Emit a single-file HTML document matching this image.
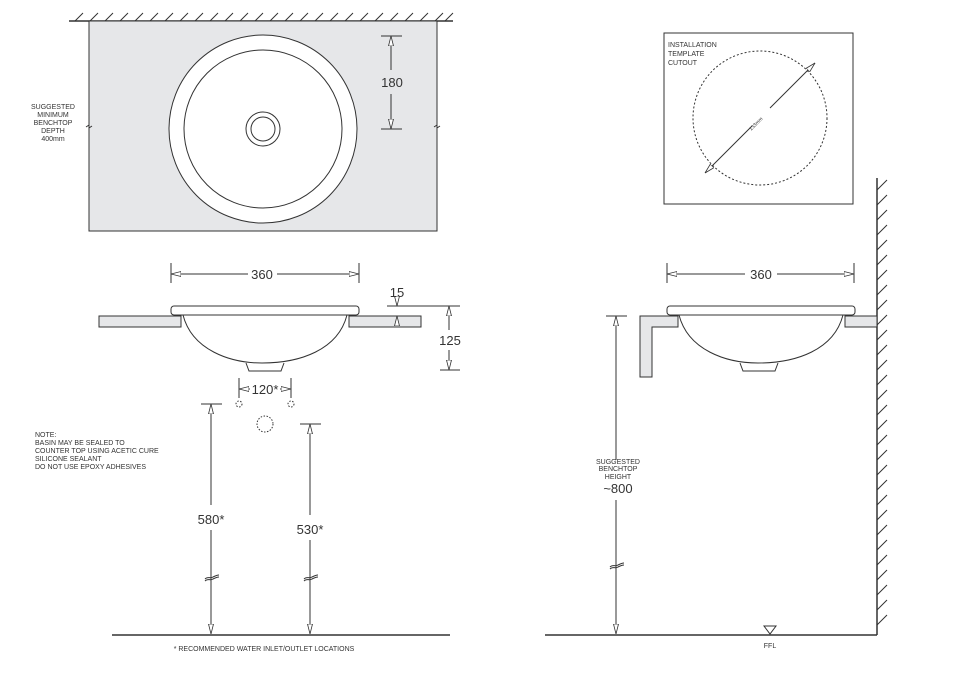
<!DOCTYPE html>
<html><head><meta charset="utf-8"><style>
html,body{margin:0;padding:0;background:#fff;}
svg{display:block;}
text{font-family:"Liberation Sans",Arial,sans-serif;fill:#333;}
.s{font-size:7px;}
.d{font-size:13px;text-anchor:middle;}
</style></head><body>
<svg width="954" height="700" viewBox="0 0 954 700" xmlns="http://www.w3.org/2000/svg">
<defs>
<marker id="a" viewBox="0 0 10 6" refX="10" refY="3" markerWidth="10" markerHeight="6" orient="auto-start-reverse" markerUnits="userSpaceOnUse">
<path d="M0,0.5 L10,3 L0,5.5 Z" fill="#fff" stroke="#333" stroke-width="0.8"/>
</marker>
</defs>
<g stroke="#333" fill="none" stroke-width="1">
<!-- top plan -->
<line x1="69" y1="21" x2="453" y2="21" stroke-width="1.5"/>
<path d="M75,21 l8,-8 M90,21 l8,-8 M105,21 l8,-8 M120,21 l8,-8 M135,21 l8,-8 M150,21 l8,-8 M165,21 l8,-8 M180,21 l8,-8 M195,21 l8,-8 M210,21 l8,-8 M225,21 l8,-8 M240,21 l8,-8 M255,21 l8,-8 M270,21 l8,-8 M285,21 l8,-8 M300,21 l8,-8 M315,21 l8,-8 M330,21 l8,-8 M345,21 l8,-8 M360,21 l8,-8 M375,21 l8,-8 M390,21 l8,-8 M405,21 l8,-8 M420,21 l8,-8 M435,21 l8,-8 M445,21 l8,-8"/>
<rect x="89" y="21" width="348" height="210" fill="#e6e7e9"/>
<circle cx="263" cy="129" r="94" fill="#fff"/>
<circle cx="263" cy="129" r="79" fill="#fff"/>
<circle cx="263" cy="129" r="17"/>
<circle cx="263" cy="129" r="12"/>
<line x1="381" y1="36" x2="402" y2="36"/><line x1="381" y1="129" x2="402" y2="129"/>
<line x1="391" y1="36" x2="391" y2="70" marker-start="url(#a)"/>
<line x1="391" y1="94" x2="391" y2="129" marker-end="url(#a)"/>
<path d="M86,127 l3,-2 l0,3 l3,-2 M434,127 l3,-2 l0,3 l3,-2"/>

<!-- left section -->
<line x1="171" y1="263" x2="171" y2="283"/><line x1="359" y1="263" x2="359" y2="283"/>
<line x1="171" y1="274" x2="248" y2="274" marker-start="url(#a)"/>
<line x1="277" y1="274" x2="359" y2="274" marker-end="url(#a)"/>
<rect x="99" y="316" width="82" height="11" fill="#e6e7e9"/>
<rect x="349" y="316" width="72" height="11" fill="#e6e7e9"/>
<path d="M183,315 C192,350 230,363 262,363 C300,363 338,350 347,315" fill="#fff"/>
<path d="M246,363 L249,371 L281,371 L284,363"/>
<rect x="171" y="306" width="188" height="9" rx="3" fill="#fff"/>
<line x1="387" y1="306" x2="460" y2="306"/>
<line x1="440" y1="370" x2="460" y2="370"/>
<line x1="397" y1="300" x2="397" y2="306" marker-end="url(#a)"/>
<line x1="397" y1="325" x2="397" y2="316" marker-end="url(#a)"/>
<line x1="449" y1="306" x2="449" y2="330" marker-start="url(#a)"/>
<line x1="449" y1="350" x2="449" y2="370" marker-end="url(#a)"/>
<line x1="239" y1="378" x2="239" y2="398"/><line x1="291" y1="378" x2="291" y2="398"/>
<line x1="250" y1="389" x2="239" y2="389" marker-end="url(#a)"/>
<line x1="280" y1="389" x2="291" y2="389" marker-end="url(#a)"/>
<g stroke-dasharray="1.5,1.5"><circle cx="239" cy="404" r="3"/><circle cx="291" cy="404" r="3"/><circle cx="265" cy="424" r="8"/></g>
<line x1="201" y1="404" x2="222" y2="404"/>
<line x1="211" y1="404" x2="211" y2="505" marker-start="url(#a)"/>
<line x1="211" y1="530" x2="211" y2="634" marker-end="url(#a)"/>
<line x1="300" y1="424" x2="321" y2="424"/>
<line x1="310" y1="424" x2="310" y2="515" marker-start="url(#a)"/>
<line x1="310" y1="540" x2="310" y2="634" marker-end="url(#a)"/>
<path d="M205,579 c3,-3 5,0 8,-2 c2,-1 4,-2 6,-2 M205,581 c3,-3 5,0 8,-2 c2,-1 4,-2 6,-2"/>
<path d="M304,579 c3,-3 5,0 8,-2 c2,-1 4,-2 6,-2 M304,581 c3,-3 5,0 8,-2 c2,-1 4,-2 6,-2"/>
<line x1="112" y1="635" x2="450" y2="635" stroke-width="1.5"/>

<!-- template -->
<rect x="664" y="33" width="189" height="171"/>
<circle cx="760" cy="118" r="67" stroke-dasharray="2,2"/>
<line x1="770" y1="108" x2="815" y2="63" marker-end="url(#a)"/>
<line x1="752" y1="126" x2="705" y2="173" marker-end="url(#a)"/>

<!-- right section -->
<line x1="877" y1="178" x2="877" y2="635" stroke-width="1.5"/>
<path d="M877,190 l10,-10 M877,205 l10,-10 M877,220 l10,-10 M877,235 l10,-10 M877,250 l10,-10 M877,265 l10,-10 M877,280 l10,-10 M877,295 l10,-10 M877,310 l10,-10 M877,325 l10,-10 M877,340 l10,-10 M877,355 l10,-10 M877,370 l10,-10 M877,385 l10,-10 M877,400 l10,-10 M877,415 l10,-10 M877,430 l10,-10 M877,445 l10,-10 M877,460 l10,-10 M877,475 l10,-10 M877,490 l10,-10 M877,505 l10,-10 M877,520 l10,-10 M877,535 l10,-10 M877,550 l10,-10 M877,565 l10,-10 M877,580 l10,-10 M877,595 l10,-10 M877,610 l10,-10 M877,625 l10,-10"/>
<line x1="545" y1="635" x2="877" y2="635" stroke-width="1.5"/>
<line x1="667" y1="263" x2="667" y2="283"/><line x1="854" y1="263" x2="854" y2="283"/>
<line x1="667" y1="274" x2="745" y2="274" marker-start="url(#a)"/>
<line x1="777" y1="274" x2="854" y2="274" marker-end="url(#a)"/>
<path d="M640,316 L678,316 L678,327 L652,327 L652,377 L640,377 Z" fill="#e6e7e9"/>
<rect x="845" y="316" width="32" height="11" fill="#e6e7e9"/>
<path d="M679,315 C688,350 726,363 758,363 C796,363 834,350 843,315" fill="#fff"/>
<path d="M740,363 L743,371 L775,371 L778,363"/>
<rect x="667" y="306" width="188" height="9" rx="3" fill="#fff"/>
<line x1="606" y1="316" x2="627" y2="316"/>
<line x1="616" y1="316" x2="616" y2="460" marker-start="url(#a)"/>
<line x1="616" y1="500" x2="616" y2="634" marker-end="url(#a)"/>
<path d="M610,567 c3,-3 5,0 8,-2 c2,-1 4,-2 6,-2 M610,569 c3,-3 5,0 8,-2 c2,-1 4,-2 6,-2"/>
<path d="M764,626 L776,626 L770,634 Z"/>
</g>
<g>
<text x="53" y="109" class="s" text-anchor="middle">SUGGESTED</text>
<text x="53" y="117" class="s" text-anchor="middle">MINIMUM</text>
<text x="53" y="125" class="s" text-anchor="middle">BENCHTOP</text>
<text x="53" y="133" class="s" text-anchor="middle">DEPTH</text>
<text x="53" y="141" class="s" text-anchor="middle">400mm</text>
<text x="392" y="87" class="d">180</text>
<text x="262" y="279" class="d">360</text>
<text x="397" y="297" class="d">15</text>
<text x="450" y="345" class="d">125</text>
<text x="265" y="394" class="d">120*</text>
<text x="211" y="524" class="d">580*</text>
<text x="310" y="534" class="d">530*</text>
<text x="35" y="437" class="s">NOTE:</text>
<text x="35" y="445" class="s">BASIN MAY BE SEALED TO</text>
<text x="35" y="453" class="s">COUNTER TOP USING ACETIC CURE</text>
<text x="35" y="461" class="s">SILICONE SEALANT</text>
<text x="35" y="469" class="s">DO NOT USE EPOXY ADHESIVES</text>
<text x="264" y="651" class="s" text-anchor="middle">* RECOMMENDED WATER INLET/OUTLET LOCATIONS</text>
<text x="668" y="47" class="s">INSTALLATION</text>
<text x="668" y="56" class="s">TEMPLATE</text>
<text x="668" y="65" class="s">CUTOUT</text>
<text x="0" y="0" font-size="5" text-anchor="middle" transform="translate(757,125) rotate(-45)">133mm</text>
<text x="761" y="279" class="d">360</text>
<text x="618" y="464" class="s" text-anchor="middle">SUGGESTED</text>
<text x="618" y="471" class="s" text-anchor="middle">BENCHTOP</text>
<text x="618" y="479" class="s" text-anchor="middle">HEIGHT</text>
<text x="618" y="493" class="d">~800</text>
<text x="770" y="648" class="s" text-anchor="middle">FFL</text>
</g>
</svg>
</body></html>
